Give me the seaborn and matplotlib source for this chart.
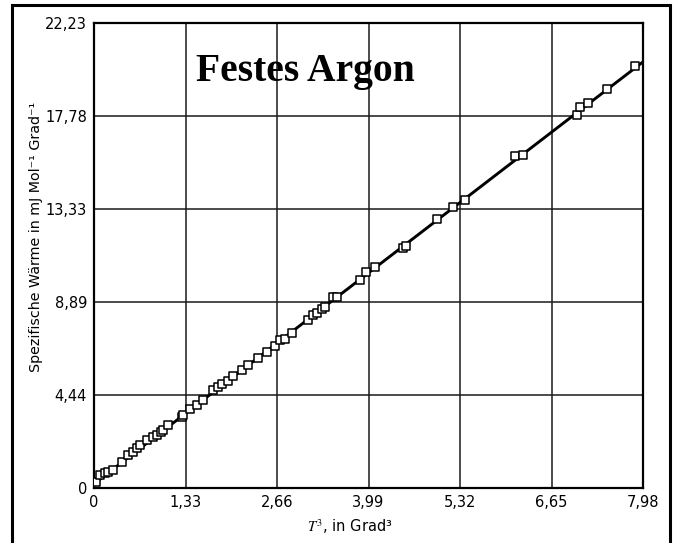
import matplotlib
matplotlib.use("Agg")
import matplotlib.pyplot as plt
from matplotlib.patches import Rectangle
import seaborn as sns
import pandas as pd

# Measured points: T^3 (Grad^3) and specific heat (mJ Mol^-1 Grad^-1)
t_cubed = [0.03, 0.09, 0.16, 0.20, 0.28, 0.41, 0.49, 0.57, 0.63, 0.67,
           0.77, 0.86, 0.92, 0.97, 1.00, 1.08, 1.28, 1.29, 1.40, 1.50,
           1.58, 1.73, 1.80, 1.86, 1.95, 2.02, 2.15, 2.24, 2.38, 2.51,
           2.63, 2.70, 2.78, 2.88, 3.11, 3.18, 3.24, 3.31, 3.36, 3.47,
           3.53, 3.87, 3.95, 4.08, 4.49, 4.53, 4.99, 5.22, 5.39, 6.12,
           6.24, 7.02, 7.06, 7.18, 7.46, 7.86]
heat = [0.29, 0.62, 0.72, 0.76, 0.86, 1.24, 1.58, 1.72, 1.91, 2.06,
        2.29, 2.44, 2.53, 2.68, 2.77, 3.01, 3.39, 3.49, 3.78, 3.97,
        4.21, 4.68, 4.83, 4.97, 5.12, 5.35, 5.64, 5.88, 6.21, 6.50,
        6.79, 7.08, 7.12, 7.41, 8.03, 8.27, 8.37, 8.56, 8.65, 9.13,
        9.13, 9.94, 10.33, 10.57, 11.47, 11.57, 12.86, 13.43, 13.77, 15.87,
        15.92, 17.83, 18.21, 18.41, 19.08, 20.17]

# Straight-line fit through the data
fit_x = [0.0, 7.98]
fit_y = [0.20, 20.37]

x_ticks = [0.0, 1.33, 2.66, 3.99, 5.32, 6.65, 7.98]
x_labels = ["0", "1,33", "2,66", "3,99", "5,32", "6,65", "7,98"]
y_ticks = [0.0, 4.446, 8.892, 13.338, 17.784, 22.23]
y_labels = ["0", "4,44", "8,89", "13,33", "17,78", "22,23"]

title = "Festes Argon"
x_title = r"$\mathit{T}^3$, in Grad³"
y_title = "Spezifische Wärme in mJ Mol⁻¹ Grad⁻¹"

sns.set_style("white")
plt.rcParams["font.family"] = ["DejaVu Sans"]
plt.rcParams["mathtext.fontset"] = "stix"

fig = plt.figure(figsize=(6.76, 5.43), dpi=100)
ax = fig.add_axes([94 / 676, 1 - 488 / 543, 549 / 676, 465 / 543])

points = pd.DataFrame({"x": t_cubed, "y": heat})
fit = pd.DataFrame({"x": fit_x, "y": fit_y})

sns.lineplot(data=fit, x="x", y="y", ax=ax, color="black", linewidth=2.1,
             zorder=3)
sns.scatterplot(data=points, x="x", y="y", ax=ax, marker="s", s=36,
                facecolor="white", edgecolor="black", linewidth=1.1,
                zorder=4)

ax.set_xlim(x_ticks[0], x_ticks[-1])
ax.set_ylim(y_ticks[0], y_ticks[-1])
ax.set_xticks(x_ticks)
ax.set_xticklabels(x_labels)
ax.set_yticks(y_ticks)
ax.set_yticklabels(y_labels)
ax.tick_params(axis="both", length=0, pad=5, labelsize=10.5, colors="black")

ax.grid(True, color="#1a1a1a", linewidth=1.1)
ax.set_axisbelow(True)
for side in ["left", "right", "top", "bottom"]:
    ax.spines[side].set_visible(True)
    ax.spines[side].set_color("black")
    ax.spines[side].set_linewidth(1.6)

ax.set_xlabel(x_title, fontsize=10.5, color="black")
ax.xaxis.set_label_coords((350 - 94) / 549, -(527 - 488) / 465)
ax.xaxis.label.set_va("center")
ax.set_ylabel(y_title, fontsize=10.3, color="black")
ax.yaxis.set_label_coords(-(94 - 36) / 549, (488 - 237) / 465)
ax.yaxis.label.set_va("center")

ax.text((305 - 94) / 549, (488 - 72) / 465, title, transform=ax.transAxes,
        ha="center", va="center", fontsize=28.5, fontweight="bold",
        family="Liberation Serif", color="black", zorder=5)

# Frame around the whole figure
fig.patches.append(Rectangle((12 / 676, -0.01), 658 / 676, 1 - 5 / 543 + 0.01,
                             transform=fig.transFigure, fill=False,
                             edgecolor="black", linewidth=2.2))

fig.savefig("out.png", dpi=100)
